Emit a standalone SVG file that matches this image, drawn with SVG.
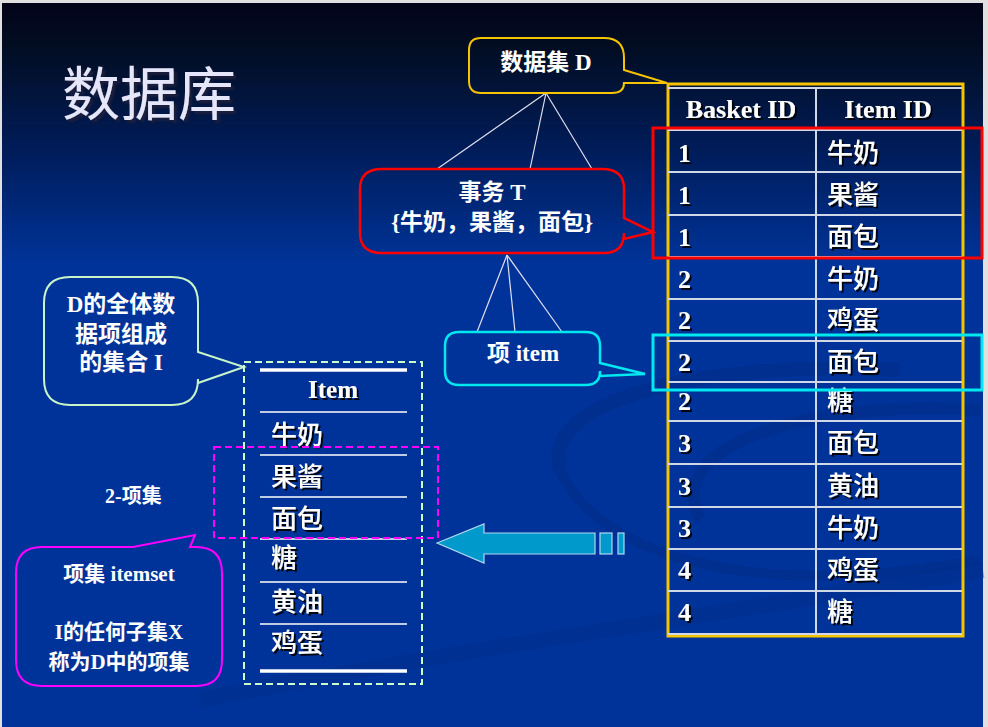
<svg xmlns="http://www.w3.org/2000/svg" width="988" height="727" viewBox="0 0 988 727">
<defs>
<linearGradient id="bg" x1="0" y1="0" x2="0" y2="1">
<stop offset="0" stop-color="#03041a"/>
<stop offset="0.06" stop-color="#020d22"/>
<stop offset="0.2" stop-color="#001c58"/>
<stop offset="0.36" stop-color="#003399"/>
<stop offset="1" stop-color="#003399"/>
</linearGradient>
<filter id="sh" x="-10%" y="-10%" width="130%" height="140%">
<feDropShadow dx="2" dy="2" stdDeviation="0.6" flood-color="#000000" flood-opacity="0.9"/>
</filter>
<filter id="tsh" x="-10%" y="-10%" width="130%" height="140%">
<feDropShadow dx="3" dy="3" stdDeviation="1" flood-color="#1a1a3a" flood-opacity="0.9"/>
</filter>
</defs>
<style>
.t{font-family:"Liberation Serif","Noto Sans CJK SC",serif;font-weight:bold;fill:#ffffff}
.cj{font-family:"Noto Sans CJK SC","Liberation Serif",sans-serif;font-weight:500;fill:#ffffff;font-size:26px}
.c{text-anchor:middle}
.cell{font-size:26px}
.hdr{font-size:26px}
.call{font-size:23px}
.grid{stroke:#d0d8e8;stroke-width:2}
.wl{stroke:#ffffff;stroke-width:1.5}
.conn{stroke:#e0e0f0;stroke-width:1.2;fill:none}
</style>
<rect x="0" y="0" width="988" height="727" fill="#e0e0e0"/>
<rect x="2" y="3" width="981" height="724" fill="url(#bg)"/>
<g id="swirl" fill="none" stroke="#002d88" stroke-opacity="0.6">
<path d="M560 470 C 540 400, 700 360, 900 370" stroke-width="14"/>
<path d="M700 520 C 660 440, 820 400, 980 410" stroke-width="12"/>
<path d="M560 470 C 600 560, 760 600, 980 560" stroke-width="10"/>
<path d="M200 700 C 450 650, 750 610, 983 570" stroke-width="16" stroke-opacity="0.35"/>
</g>
<g id="title">
<text x="62" y="115" font-family="'Noto Sans CJK SC','Liberation Serif',serif" font-size="58" fill="#e6e6fa" filter="url(#tsh)">数据库</text>
</g>
<g id="connectors">
<line class="conn" x1="546" y1="93" x2="437" y2="169"/>
<line class="conn" x1="546" y1="93" x2="530" y2="169"/>
<line class="conn" x1="546" y1="93" x2="592" y2="169"/>
<line class="conn" x1="507" y1="255" x2="477" y2="332"/>
<line class="conn" x1="507" y1="255" x2="515" y2="332"/>
<line class="conn" x1="507" y1="255" x2="562" y2="332"/>
</g>
<g id="table">
<rect x="668" y="84" width="295" height="552" fill="none" stroke="#f5c400" stroke-width="3"/>
<line class="grid" x1="668" y1="88" x2="962" y2="88" stroke="#ffffff" stroke-width="3"/>
<line class="grid" x1="816" y1="88" x2="816" y2="635"/>
<g>
<line class="grid" x1="668" y1="130" x2="962" y2="130"/>
<line class="grid" x1="668" y1="172" x2="962" y2="172"/>
<line class="grid" x1="668" y1="215" x2="962" y2="215"/>
<line class="grid" x1="668" y1="257" x2="962" y2="257"/>
<line class="grid" x1="668" y1="299" x2="962" y2="299"/>
<line class="grid" x1="668" y1="341" x2="962" y2="341"/>
<line class="grid" x1="668" y1="382" x2="962" y2="382"/>
<line class="grid" x1="668" y1="421" x2="962" y2="421"/>
<line class="grid" x1="668" y1="464" x2="962" y2="464"/>
<line class="grid" x1="668" y1="507" x2="962" y2="507"/>
<line class="grid" x1="668" y1="549" x2="962" y2="549"/>
<line class="grid" x1="668" y1="591" x2="962" y2="591"/>
<line class="grid" x1="668" y1="634" x2="962" y2="634" stroke="#ffffff" stroke-width="3"/>
</g>
<g filter="url(#sh)">
<text class="t c hdr" x="741" y="118">Basket ID</text>
<text class="t c hdr" x="888" y="118">Item ID</text>
<text class="t cell" x="678" y="162">1</text><text class="cj" x="827" y="162">牛奶</text>
<text class="t cell" x="678" y="204">1</text><text class="cj" x="827" y="204">果酱</text>
<text class="t cell" x="678" y="246">1</text><text class="cj" x="827" y="246">面包</text>
<text class="t cell" x="678" y="288">2</text><text class="cj" x="827" y="288">牛奶</text>
<text class="t cell" x="678" y="329">2</text><text class="cj" x="827" y="329">鸡蛋</text>
<text class="t cell" x="678" y="371">2</text><text class="cj" x="827" y="371">面包</text>
<text class="t cell" x="678" y="410">2</text><text class="cj" x="827" y="410">糖</text>
<text class="t cell" x="678" y="452">3</text><text class="cj" x="827" y="452">面包</text>
<text class="t cell" x="678" y="495">3</text><text class="cj" x="827" y="495">黄油</text>
<text class="t cell" x="678" y="537">3</text><text class="cj" x="827" y="537">牛奶</text>
<text class="t cell" x="678" y="579">4</text><text class="cj" x="827" y="579">鸡蛋</text>
<text class="t cell" x="678" y="621">4</text><text class="cj" x="827" y="621">糖</text>
</g>
</g>
<g id="highlight-t">
<rect x="653" y="128" width="329" height="130" fill="none" stroke="#ff0000" stroke-width="3"/>
</g>
<g id="highlight-item">
<rect x="653" y="335" width="329" height="55" fill="none" stroke="#00e8f0" stroke-width="3"/>
</g>
<g id="callout-d">
<path d="M489 38 H604 Q624 38 624 58 V70 L667 83 L624 83 Q624 93 612 93 H481 Q469 93 469 81 V50 Q469 38 481 38 Z" fill="none" stroke="#f5c400" stroke-width="2"/>
<text class="t c call" x="546" y="70">数据集 D</text>
</g>
<g id="callout-t">
<path d="M382 169 H602 Q624 169 624 189 V218 L653 232 L624 239 V233 Q624 253 604 253 H382 Q360 253 360 233 V189 Q360 169 382 169 Z" fill="none" stroke="#ff0000" stroke-width="2.5"/>
<text class="t c call" x="492" y="200">事务 T</text>
<text class="t c call" x="492" y="230">{牛奶，果酱，面包}</text>
</g>
<g id="callout-item">
<path d="M459 332 H586 Q600 332 600 346 V363 L645 374 L600 376 V371 Q600 385 586 385 H459 Q445 385 445 371 V346 Q445 332 459 332 Z" fill="none" stroke="#00e8f0" stroke-width="2.5"/>
<text class="t c call" x="523" y="361">项 item</text>
</g>
<g id="callout-i">
<path d="M70 277 H172 Q198 277 198 303 V352 L244 367 L198 383 V379 Q198 405 172 405 H70 Q44 405 44 379 V303 Q44 277 70 277 Z" fill="none" stroke="#c8f5c8" stroke-width="2"/>
<text class="t c call" x="121" y="312">D的全体数</text>
<text class="t c call" x="121" y="342">据项组成</text>
<text class="t c call" x="121" y="370">的集合 I</text>
</g>
<g id="item-table">
<rect x="244" y="362" width="178" height="322" fill="none" stroke="#ccffcc" stroke-width="2" stroke-dasharray="7,4"/>
<line x1="260" y1="370" x2="407" y2="370" stroke="#ffffff" stroke-width="3.5"/>
<line class="wl" x1="260" y1="412" x2="407" y2="412"/>
<line class="wl" x1="260" y1="455" x2="407" y2="455"/>
<line class="wl" x1="260" y1="497" x2="407" y2="497"/>
<line class="wl" x1="260" y1="539" x2="407" y2="539"/>
<line class="wl" x1="260" y1="582" x2="407" y2="582"/>
<line class="wl" x1="260" y1="624" x2="407" y2="624"/>
<line x1="260" y1="671" x2="407" y2="671" stroke="#ffffff" stroke-width="3.5"/>
<g filter="url(#sh)">
<text class="t c" x="333" y="398" font-size="25">Item</text>
<text class="cj" x="271" y="444">牛奶</text>
<text class="cj" x="271" y="486">果酱</text>
<text class="cj" x="271" y="528">面包</text>
<text class="cj" x="271" y="567">糖</text>
<text class="cj" x="271" y="611">黄油</text>
<text class="cj" x="271" y="652">鸡蛋</text>
</g>
</g>
<g id="itemset-2">
<rect x="214" y="447" width="224" height="91" fill="none" stroke="#ff00ff" stroke-width="2" stroke-dasharray="7,4"/>
<text class="t" x="105" y="503" font-size="20">2-项集</text>
</g>
<g id="callout-itemset">
<path d="M44 547 H133 L195 535 L190 547 H196 Q222 547 222 573 V660 Q222 686 196 686 H42 Q16 686 16 660 V573 Q16 547 42 547 Z" fill="none" stroke="#ff00ff" stroke-width="2"/>
<text class="t c" x="119" y="581" font-size="21">项集 itemset</text>
<text class="t c" x="119" y="639" font-size="21">I的任何子集X</text>
<text class="t c" x="119" y="669" font-size="21">称为D中的项集</text>
</g>
<g id="arrow">
<path d="M437 543 L484 524 V533 H595 V554 H484 V563 Z" fill="#0099cc" stroke="#b0d8f0" stroke-width="1.2"/>
<rect x="600" y="533" width="12" height="21" fill="#0099cc" stroke="#b0d8f0" stroke-width="1.2"/>
<rect x="618" y="533" width="6" height="21" fill="#0099cc" stroke="#b0d8f0" stroke-width="1.2"/>
</g>
</svg>
